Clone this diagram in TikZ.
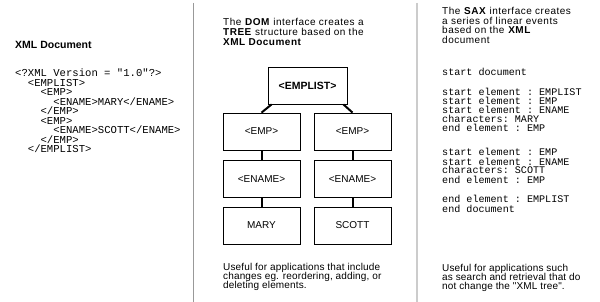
\documentclass[tikz,border=0pt]{standalone}
\usepackage{fontspec}
\setmainfont{Liberation Sans}
\setmonofont{Liberation Mono}
\newfontfamily\widesans{Liberation Sans}[LetterSpace=5]
\newfontfamily\bodysans{Liberation Sans}[LetterSpace=1.5]
\begin{document}
\begin{tikzpicture}[x=1pt,y=-1pt,
  ttl/.style={anchor=base west, inner sep=0pt, font=\widesans\fontsize{10}{10}\selectfont},
  body/.style={anchor=base west, inner sep=0pt, font=\bodysans\fontsize{10}{10}\selectfont},
  head/.style={anchor=base west, inner sep=0pt, font=\bfseries\fontsize{10.5}{11}\selectfont},
  xcode/.style={anchor=base west, inner sep=0pt, font=\ttfamily\fontsize{10.6}{10}\selectfont},
  scode/.style={anchor=base west, inner sep=0pt, font=\ttfamily\fontsize{10.1}{10}\selectfont},
  tbox/.style={draw=black, line width=0.8pt, minimum width=77pt, minimum height=37pt,
    inner sep=0pt, font=\fontsize{10}{10}\selectfont},
  link/.style={line width=2pt},
  divider/.style={line width=1pt},
]
\useasboundingbox (0,0) rectangle (600,302);

% dividers
\draw[divider, draw=black!40] (193.5,3) -- (193.5,302);
\draw[divider, draw=black!20, line width=2pt] (416.5,3) -- (416.5,302);

% left column
\node[head] (xh) at (15,48.5) {XML Document};
\node[xcode] (x1) at (15,77) {<?XML Version = "1.0"?>};
\node[xcode] (x2) at (27.7,86.5) {<EMPLIST>};
\node[xcode] (x3) at (40.4,96) {<EMP>};
\node[xcode] (x4) at (53.2,105.5) {<ENAME>MARY</ENAME>};
\node[xcode] (x5) at (40.4,115) {</EMP>};
\node[xcode] (x6) at (40.4,124.5) {<EMP>};
\node[xcode] (x7) at (53.2,134) {<ENAME>SCOTT</ENAME>};
\node[xcode] (x8) at (40.4,143.5) {</EMP>};
\node[xcode] (x9) at (27.7,153) {</EMPLIST>};

% middle column
\node[ttl] (d1) at (223,26) {The \textbf{DOM} interface creates a};
\node[ttl] (d2) at (223,36) {\textbf{TREE} structure based on the};
\node[ttl] (d3) at (223,46) {\textbf{XML Document}};

\node[tbox, minimum width=79pt, font=\bfseries\fontsize{10.5}{10}\selectfont] (root) at (307.5,85.5) {<EMPLIST>};
\node[tbox] (emp1) at (261.5,131.5) {<EMP>};
\node[tbox] (emp2) at (352.5,131.5) {<EMP>};
\node[tbox] (en1) at (261.5,179) {<ENAME>};
\node[tbox] (en2) at (352.5,179) {<ENAME>};
\node[tbox] (m1) at (261.5,225.5) {MARY};
\node[tbox] (m2) at (352.5,225.5) {SCOTT};

\draw[link] ([xshift=4pt]root.south west) -- (emp1.north);
\draw[link] ([xshift=-4pt]root.south east) -- (emp2.north);
\draw[link] (emp1.south) -- (en1.north);
\draw[link] (emp2.south) -- (en2.north);
\draw[link] (en1.south) -- (m1.north);
\draw[link] (en2.south) -- (m2.north);

\node[body] (b1) at (223,270.5) {Useful for applications that include};
\node[body] (b2) at (223,279.5) {changes eg. reordering, adding, or};
\node[body] (b3) at (223,288.5) {deleting elements.};

% right column
\node[ttl] (r1) at (442,15) {The \textbf{SAX} interface creates};
\node[ttl] (r2) at (442,24.5) {a series of linear events};
\node[ttl] (r3) at (442,34) {based on the \textbf{XML}};
\node[ttl] (r4) at (442,43.5) {document};

\node[scode] (s1) at (442,76) {start document};
\node[scode] (s2) at (442,96) {start element : EMPLIST};
\node[scode] (s3) at (442,105) {start element : EMP};
\node[scode] (s4) at (442,114) {start element : ENAME};
\node[scode] (s5) at (442,123) {characters: MARY};
\node[scode] (s6) at (442,132) {end element : EMP};
\node[scode] (s7) at (442,156) {start element : EMP};
\node[scode] (s8) at (442,165) {start element : ENAME};
\node[scode] (s9) at (442,174) {characters: SCOTT};
\node[scode] (s10) at (442,183) {end element : EMP};
\node[scode] (s11) at (442,203) {end element : EMPLIST};
\node[scode] (s12) at (442,212) {end document};

\node[body] (c1) at (442,271.5) {Useful for applications such};
\node[body] (c2) at (442,280.5) {as search and retrieval that do};
\node[body] (c3) at (442,289) {not change the "XML tree".};
\end{tikzpicture}
\end{document}
